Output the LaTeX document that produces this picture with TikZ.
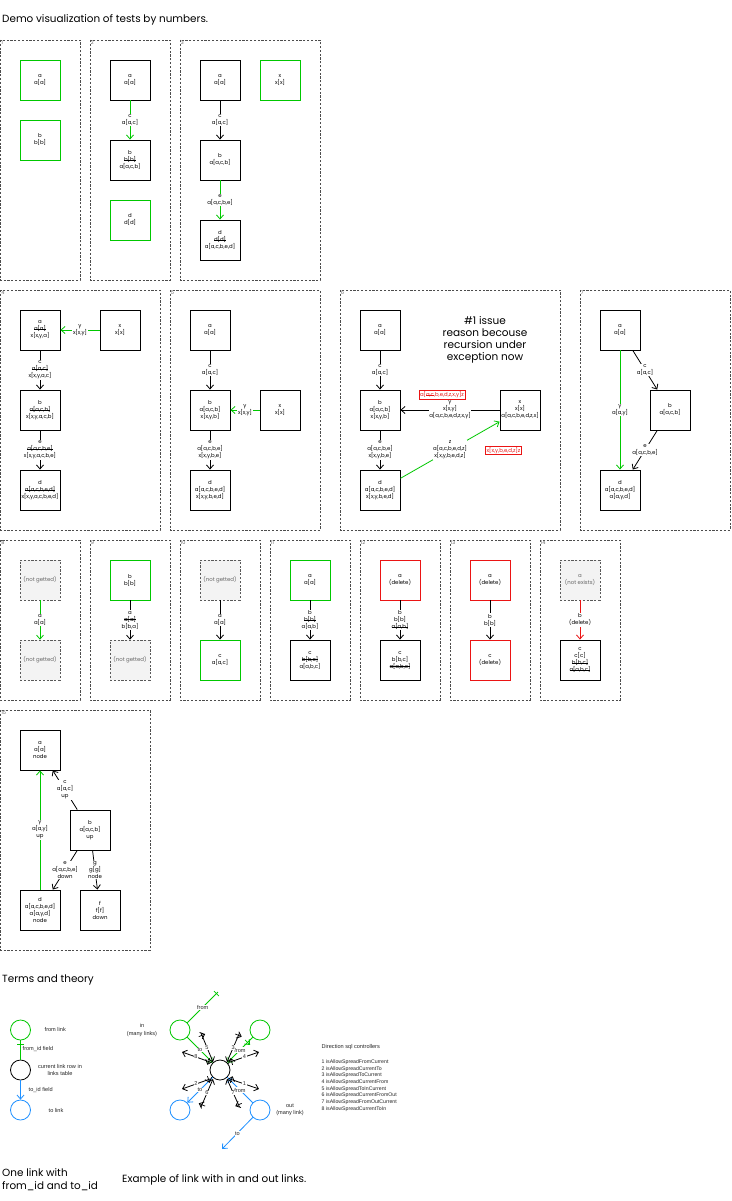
\documentclass[tikz,border=0pt]{standalone}
\usepackage{fontspec}
\setmainfont{Poppins}
\newfontfamily\arialf{Liberation Sans}
\usetikzlibrary{arrows.meta,decorations.markings}
\definecolor{gr}{RGB}{0,200,0}
\definecolor{rd}{RGB}{235,20,20}
\definecolor{bl}{RGB}{30,144,255}
\definecolor{ng}{RGB}{243,243,243}
\newsavebox\stbox
\newcommand{\strk}[1]{\sbox\stbox{#1}\rlap{\rule[0.35ex]{\wd\stbox}{0.7pt}}\usebox\stbox}
\newcommand{\fs}{\fontsize{5.4}{7}\selectfont}
\newcommand{\fa}{\arialf\fontsize{5.6}{7.4}\selectfont}
\tikzset{
  panel/.style={draw=black!70, dash pattern=on 2.2pt off 1.6pt, line width=0.6pt},
  pnum/.style={anchor=north west, inner sep=0.6pt, font=\fontsize{5}{5}\selectfont, text=black!60},
  nd/.style={draw=black, line width=0.9pt, minimum width=40pt, minimum height=40pt, inner sep=0pt, align=center, font=\fs, text=black},
  ndg/.style={nd, draw=gr},
  ndr/.style={nd, draw=rd},
  ndx/.style={nd, draw=black!65, dash pattern=on 2.2pt off 1.6pt, line width=0.6pt, fill=ng, text=black!60},
  ed/.style={line width=0.8pt, -{Straight Barb[length=4pt,width=7pt,line width=0.8pt]}},
  pl/.style={line width=0.8pt},
  lbl/.style={fill=white, inner sep=0.6pt, align=center, font=\fs, text=black},
  rbox/.style={draw=rd, fill=white, text=rd, line width=0.6pt, inner sep=1pt, font=\fs},
  circ/.style={circle, minimum size=20pt, inner sep=0pt, line width=0.8pt},
  tee/.style={postaction={decorate,decoration={markings,mark=at position #1 with {\draw[line width=0.7pt] (0pt,-3.5pt)--(0pt,3.5pt);}}}},
  sm/.style={font=\fa, text=black!85, inner sep=0.5pt},
  big/.style={font=\fontsize{10.4}{13}\selectfont, inner sep=0pt},
}
\begin{document}
\begin{tikzpicture}[x=1pt,y=-1pt]
\useasboundingbox[fill=white] (0,0) rectangle (731,1201);
\node[big, anchor=west] (title) at (2,20) {Demo visualization of tests by numbers.};

% ---------- panels ----------
\draw[panel] (0.5,40) rectangle (80,280);   \node[pnum] (n1) at (0.5,40) {1};
\draw[panel] (90,40) rectangle (170,280);   \node[pnum] (n2) at (90,40) {2};
\draw[panel] (180,40) rectangle (320,280);  \node[pnum] (n3) at (180,40) {3};
\draw[panel] (0.5,290) rectangle (160,530); \node[pnum] (n4) at (0.5,290) {4};
\draw[panel] (170,290) rectangle (320,530); \node[pnum] (n5) at (170,290) {5};
\draw[panel] (340,290) rectangle (560,530); \node[pnum] (n6) at (340,290) {6};
\draw[panel] (580,290) rectangle (730,530); \node[pnum] (n7) at (580,290) {7};
\draw[panel] (0.5,540) rectangle (80,700);  \node[pnum] (n8) at (0.5,540) {8};
\draw[panel] (90,540) rectangle (170,700);  \node[pnum] (n9) at (90,540) {9};
\draw[panel] (180,540) rectangle (260,700); \node[pnum] (n10) at (180,540) {10};
\draw[panel] (270,540) rectangle (350,700); \node[pnum] (n11) at (270,540) {11};
\draw[panel] (360,540) rectangle (440,700); \node[pnum] (n12) at (360,540) {12};
\draw[panel] (450,540) rectangle (530,700); \node[pnum] (n13) at (450,540) {13};
\draw[panel] (540,540) rectangle (620,700); \node[pnum] (n14) at (540,540) {14};
\draw[panel] (0.5,710) rectangle (150,950); \node[pnum] (n15) at (0.5,710) {15};

% ---------- panel 1 ----------
\node[ndg] (p1a) at (40,80) {a\\a[a]};
\node[ndg] (p1b) at (40,140) {b\\b[b]};
% ---------- panel 2 ----------
\node[nd] (p2a) at (130,80) {a\\a[a]};
\node[nd] (p2b) at (130,160) {b\\\strk{b[b]}\\a[a,c,b]};
\node[ndg] (p2d) at (130,220) {d\\d[d]};
\draw[ed,gr] (p2a) -- node[lbl]{c\\a[a,c]} (p2b);
% ---------- panel 3 ----------
\node[nd] (p3a) at (220,80) {a\\a[a]};
\node[ndg] (p3x) at (280,80) {x\\x[x]};
\node[nd] (p3b) at (220,160) {b\\a[a,c,b]};
\node[nd] (p3d) at (220,240) {d\\\strk{d[d]}\\a[a,c,b,e,d]};
\draw[ed] (p3a) -- node[lbl]{c\\a[a,c]} (p3b);
\draw[ed,gr] (p3b) -- node[lbl]{e\\a[a,c,b,e]} (p3d);
% ---------- panel 4 ----------
\node[nd] (p4a) at (40,330) {a\\\strk{a[a]}\\x[x,y,a]};
\node[nd] (p4x) at (120,330) {x\\x[x]};
\node[nd] (p4b) at (40,410) {b\\\strk{a[a,c,b]}\\x[x,y,a,c,b]};
\node[nd] (p4d) at (40,490) {d\\\strk{a[a,c,b,e,d]}\\x[x,y,a,c,b,e,d]};
\draw[ed,gr] (p4x) -- node[lbl]{y\\x[x,y]} (p4a);
\draw[ed] (p4a) -- node[lbl]{c\\\strk{a[a,c]}\\x[x,y,a,c]} (p4b);
\draw[ed] (p4b) -- node[lbl]{e\\\strk{a[a,c,b,e]}\\x[x,y,a,c,b,e]} (p4d);
% ---------- panel 5 ----------
\node[nd] (p5a) at (210,330) {a\\a[a]};
\node[nd] (p5b) at (210,410) {b\\a[a,c,b]\\x[x,y,b]};
\node[nd] (p5x) at (280,410) {x\\x[x]};
\node[nd] (p5d) at (210,490) {d\\a[a,c,b,e,d]\\x[x,y,b,e,d]};
\draw[ed] (p5a) -- node[lbl]{c\\a[a,c]} (p5b);
\draw[ed,gr] (p5x) -- node[lbl]{y\\x[x,y]} (p5b);
\draw[ed] (p5b) -- node[lbl]{e\\a[a,c,b,e]\\x[x,y,b,e]} (p5d);
% ---------- panel 6 ----------
\node[nd] (p6a) at (380,330) {a\\a[a]};
\node[nd] (p6b) at (380,410) {b\\a[a,c,b]\\x[x,y,b]};
\node[nd] (p6x) at (520,410) {x\\x[x]\\a[a,c,b,e,d,z,x]};
\node[nd] (p6d) at (380,490) {d\\a[a,c,b,e,d]\\x[x,y,b,e,d]};
\draw[ed] (p6a) -- node[lbl]{c\\a[a,c]} (p6b);
\draw[ed] (p6x) -- node[lbl]{y\\x[x,y]\\a[a,c,b,e,d,z,x,y]} (p6b);
\draw[ed] (p6b) -- node[lbl]{e\\a[a,c,b,e]\\x[x,y,b,e]} (p6d);
\draw[ed,gr] (p6d) -- node[lbl]{z\\a[a,c,b,e,d,z]\\x[x,y,b,e,d,z]} (p6x);
\node[rbox] (r1) at (442,395) {a[\strk{a,c},b,e,d,z,x,y]z};
\node[rbox] (r2) at (503.5,450.5) {x[x,y,b,e,d,z]z};
\node[align=center, font=\fontsize{10.5}{12}\selectfont] (issue) at (485,340) {\#1 issue\\reason becouse\\recursion under\\exception now};
% ---------- panel 7 ----------
\node[nd] (p7a) at (620,330) {a\\a[a]};
\node[nd] (p7b) at (670,410) {b\\a[a,c,b]};
\node[nd] (p7d) at (620,490) {d\\a[a,c,b,e,d]\\a[a,y,d]};
\draw[ed] (p7a) -- node[lbl]{c\\a[a,c]} (p7b);
\draw[ed] (p7b) -- node[lbl]{e\\a[a,c,b,e]} (p7d);
\draw[ed,gr] (p7a) -- node[lbl]{y\\a[a,y]} (p7d);
% ---------- panel 8 ----------
\node[ndx] (p8t) at (40,580) {(not getted)};
\node[ndx] (p8b) at (40,660) {(not getted)};
\draw[ed,gr] (p8t) -- node[lbl]{a\\a[a]} (p8b);
% ---------- panel 9 ----------
\node[ndg] (p9t) at (130,580) {b\\b[b]};
\node[ndx] (p9b) at (130,660) {(not getted)};
\draw[ed] (p9t) -- node[lbl]{a\\\strk{a[a]}\\b[b,a]} (p9b);
% ---------- panel 10 ----------
\node[ndx] (p10t) at (220,580) {(not getted)};
\node[ndg] (p10b) at (220,660) {c\\a[a,c]};
\draw[ed] (p10t) -- node[lbl]{a\\a[a]} (p10b);
% ---------- panel 11 ----------
\node[ndg] (p11t) at (310,580) {a\\a[a]};
\node[nd] (p11b) at (310,660) {c\\\strk{b[b,c]}\\a[a,b,c]};
\draw[ed] (p11t) -- node[lbl]{b\\\strk{b[b]}\\a[a,b]} (p11b);
% ---------- panel 12 ----------
\node[ndr] (p12t) at (400,580) {a\\(delete)};
\node[nd] (p12b) at (400,660) {c\\b[b,c]\\\strk{a[a,b,c]}};
\draw[ed] (p12t) -- node[lbl]{b\\b[b]\\\strk{a[a,b]}} (p12b);
% ---------- panel 13 ----------
\node[ndr] (p13t) at (490,580) {a\\(delete)};
\node[ndr] (p13b) at (490,660) {c\\(delete)};
\draw[ed] (p13t) -- node[lbl]{b\\b[b]} (p13b);
% ---------- panel 14 ----------
\node[ndx] (p14t) at (580,580) {a\\(not exists)};
\node[nd] (p14b) at (580,660) {c\\c[c]\\\strk{b[b,c]}\\\strk{a[a,b,c]}};
\draw[ed,rd] (p14t) -- node[lbl]{b\\(delete)} (p14b);
% ---------- panel 15 ----------
\node[nd] (p15a) at (40,750) {a\\a[a]\\node};
\node[nd] (p15b) at (90,830) {b\\a[a,c,b]\\up};
\node[nd] (p15d) at (40,910) {d\\a[a,c,b,e,d]\\a[a,y,d]\\node};
\node[nd] (p15f) at (100,910) {f\\f[f]\\down};
\draw[ed] (p15b) -- node[lbl]{c\\a[a,c]\\up} (p15a);
\draw[ed,gr] (p15d) -- node[lbl]{y\\a[a,y]\\up} (p15a);
\draw[ed] (p15b) -- node[lbl]{e\\a[a,c,b,e]\\down} (p15d);
\draw[ed] (p15b) -- node[lbl]{g\\g[g]\\node} (p15f);

% ---------- terms and theory ----------
\node[big, anchor=west] (terms) at (2,980) {Terms and theory};
\node[circ, draw=gr] (tf) at (20.5,1030) {};
\node[circ, draw=black] (tc) at (20.5,1070) {};
\node[circ, draw=bl] (tt) at (20.5,1110) {};
\draw[pl, gr, tee=0.8] (tc) -- (tf);
\draw[ed, bl] (tc) -- (tt);
\node[sm, anchor=west] (l1) at (44,1029) {from link};
\node[sm, anchor=west] (l2) at (22,1049) {from\_id field};
\node[sm, align=center] (l3) at (60,1070) {current link row in\\links table};
\node[sm, anchor=west] (l4) at (28,1090) {to\_id field};
\node[sm, anchor=west] (l5) at (48,1110) {to link};
\node[big, anchor=north west, align=left] (one) at (2,1168) {One link with\\from\_id and to\_id};
\node[big, anchor=west] (ex) at (122,1180) {Example of link with in and out links.};

% ---------- in/out example ----------
\node[circ, draw=black] (C) at (220,1070) {};
\node[circ, draw=gr] (IL) at (180,1030) {};
\node[circ, draw=gr] (IR) at (260,1030) {};
\node[circ, draw=bl] (OL) at (180,1110) {};
\node[circ, draw=bl] (OR) at (260,1110) {};
\coordinate (fx) at (218,992);
\coordinate (tox) at (222,1149);
\draw[pl, gr, tee=0.95] (IL) -- node[sm, fill=white, pos=0.5]{from} (fx);
\draw[ed, gr] (IL) -- node[sm, fill=white]{to} (C);
\draw[ed, gr, tee=0.2] (IR) -- node[sm, fill=white]{from} (C);
\draw[ed, bl] (C) -- node[sm, fill=white]{to} (OL);
\draw[pl, bl, tee=0.9] (OR) -- node[sm, fill=white]{from} (C);
\draw[ed, bl] (OR) -- node[sm, fill=white]{to} (tox);
% numbered controllers
\coordinate (s1) at (230,1079);   \coordinate (e1) at (259,1089);
\coordinate (s2) at (210,1079);   \coordinate (e2) at (182,1089);
\coordinate (e3) at (239.5,1033); \coordinate (s3) at (227,1062);
\coordinate (s4) at (230,1062);   \coordinate (e4) at (259,1052);
\coordinate (e5) at (201,1033);   \coordinate (s5) at (213,1062);
\coordinate (e6) at (201,1107);   \coordinate (s6) at (213,1079);
\coordinate (e7) at (239.5,1107); \coordinate (s7) at (227,1079);
\coordinate (s8) at (210,1062);   \coordinate (e8) at (182,1052);
\draw[ed, tee=0.05] (s1) -- node[sm, fill=white]{1} (e1);
\draw[ed, tee=0.05] (s2) -- node[sm, fill=white]{2} (e2);
\draw[ed, tee=0.08] (e3) -- node[sm, fill=white]{3} (s3);
\draw[ed, tee=0.05] (s4) -- node[sm, fill=white]{4} (e4);
\draw[ed, tee=0.08] (e5) -- node[sm, fill=white]{5} (s5);
\draw[ed, tee=0.08] (e6) -- node[sm, fill=white]{6} (s6);
\draw[ed, tee=0.08] (e7) -- node[sm, fill=white]{7} (s7);
\draw[ed, tee=0.05] (s8) -- node[sm, fill=white]{8} (e8);
\node[sm, align=center] (inl) at (142,1030) {in\\(many links)};
\node[sm, align=center] (outl) at (290,1110) {out\\(many link)};

% ---------- direction list ----------
\node[sm, anchor=north west] (dirh) at (321,1044) {Direction sql controllers};
\node[sm, anchor=north west, align=left, font=\arialf\fontsize{5.2}{6.7}\selectfont] (dir) at (321,1059)
 {1 isAllowSpreadFromCurrent\\
  2 isAllowSpreadCurrentTo\\
  3 isAllowSpreadToCurrent\\
  4 isAllowSpreadCurrentFrom\\
  5 isAllowSpreadToInCurrent\\
  6 isAllowSpreadCurrentFromOut\\
  7 isAllowSpreadFromOutCurrent\\
  8 isAllowSpreadCurrentToIn};
\end{tikzpicture}
\end{document}
